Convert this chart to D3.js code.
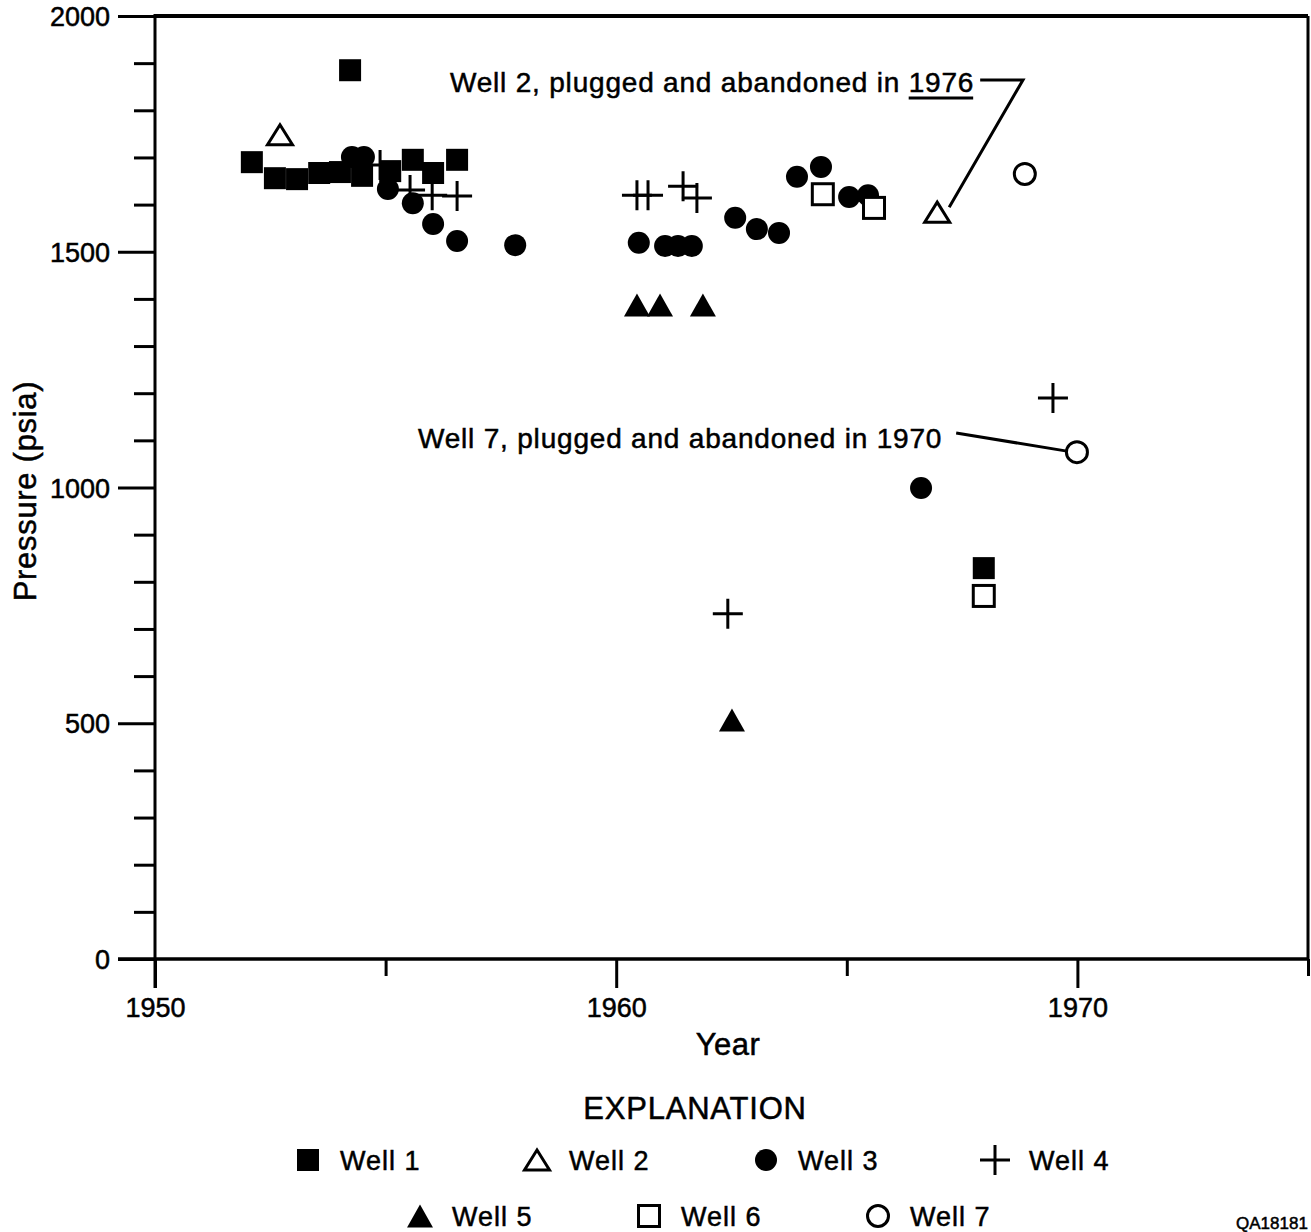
<!DOCTYPE html>
<html>
<head>
<meta charset="utf-8">
<script src="https://cdn.jsdelivr.net/npm/d3@7"></script>
<style>
  html, body { margin: 0; padding: 0; background: #fff; }
  svg { display: block; }
  text { font-family: "Liberation Sans", Arial, Helvetica, sans-serif; fill: #000; stroke: #000; stroke-width: 0.5px; }
</style>
</head>
<body>
<svg id="chart" width="1311" height="1232"></svg>
<script>
// Measured shut-in pressures by well (year, psia)
const well1Year = [1952.10, 1952.60, 1953.08, 1953.56, 1954.01, 1954.23, 1954.49, 1955.10, 1955.59, 1956.03, 1956.55, 1967.97];
const well1Psia = [1690, 1656, 1654, 1667, 1669, 1885, 1661, 1671, 1695, 1667, 1695, 829];

const well2Year = [1952.71, 1966.96];
const well2Psia = [1748, 1584];

const well3Year = [1954.27, 1954.53, 1955.05, 1955.59, 1956.03, 1956.55, 1957.81, 1960.49, 1961.06, 1961.34, 1961.64,
                   1962.58, 1963.05, 1963.53, 1963.92, 1964.44, 1965.05, 1965.46, 1966.61];
const well3Psia = [1701, 1701, 1633, 1603, 1559, 1523, 1514, 1519, 1512, 1512, 1512,
                   1572, 1548, 1540, 1659, 1680, 1616, 1620, 999];

const well4Year = [1954.88, 1955.53, 1956.01, 1956.55, 1960.45, 1960.69, 1961.45, 1961.75, 1962.42, 1969.47];
const well4Psia = [1684, 1631, 1620, 1618, 1620, 1620, 1639, 1614, 732, 1190];

const well5Year = [1960.45, 1960.95, 1961.88, 1962.51];
const well5Psia = [1387, 1387, 1387, 507];

const well6Year = [1964.48, 1965.59, 1967.97];
const well6Psia = [1622, 1593, 770];

const well7Year = [1968.86, 1969.99];
const well7Psia = [1665, 1075];

const wellNames = ["Well 1", "Well 2", "Well 3", "Well 4", "Well 5", "Well 6", "Well 7"];
const wellShapes = ["squareFilled", "triangleOpen", "circleFilled", "cross", "triangleFilled", "squareOpen", "circleOpen"];

const yearMajorTicks = [1950, 1960, 1970];
const yearMinorTicks = [1955, 1965, 1975];
const psiaMajorTicks = [0, 500, 1000, 1500, 2000];
const psiaMinorTicks = d3.range(0, 2001, 100).filter(v => v % 500 !== 0);

const wells = [
  [well1Year, well1Psia], [well2Year, well2Psia], [well3Year, well3Psia], [well4Year, well4Psia],
  [well5Year, well5Psia], [well6Year, well6Psia], [well7Year, well7Psia]
].map(([yr, ps], i) => ({ name: wellNames[i], shape: wellShapes[i], points: yr.map((v, j) => ({ year: v, psia: ps[j] })) }));

const svg = d3.select("#chart");
const x = d3.scaleLinear().domain([1950, 1975]).range([155, 1308]);
const y = d3.scaleLinear().domain([0, 2000]).range([959, 16]);

const STROKE = 3;

// Marker drawing, centred at (0,0)
function drawMarker(g, shape) {
  switch (shape) {
    case "squareFilled":
      g.append("rect").attr("x", -11).attr("y", -11).attr("width", 22).attr("height", 22).attr("fill", "#000");
      break;
    case "squareOpen":
      g.append("rect").attr("x", -10.5).attr("y", -10.5).attr("width", 21).attr("height", 21)
        .attr("fill", "#fff").attr("stroke", "#000").attr("stroke-width", STROKE);
      break;
    case "circleFilled":
      g.append("circle").attr("r", 11).attr("fill", "#000");
      break;
    case "circleOpen":
      g.append("circle").attr("r", 10.5).attr("fill", "#fff").attr("stroke", "#000").attr("stroke-width", STROKE);
      break;
    case "triangleFilled":
      g.append("path").attr("d", "M0,-11.5L13,11.5L-13,11.5Z").attr("fill", "#000");
      break;
    case "triangleOpen":
      g.append("path").attr("d", "M0,-10L12.5,10L-12.5,10Z").attr("fill", "#fff")
        .attr("stroke", "#000").attr("stroke-width", STROKE).attr("stroke-linejoin", "miter");
      break;
    case "cross":
      g.append("path").attr("d", "M-15,0H15M0,-15V15").attr("fill", "none")
        .attr("stroke", "#000").attr("stroke-width", STROKE);
      break;
  }
}

// Frame: top and right edges
svg.append("line").attr("x1", x(1950)).attr("x2", x(1975)).attr("y1", y(2000)).attr("y2", y(2000))
  .attr("stroke", "#000").attr("stroke-width", 4);
svg.append("line").attr("x1", x(1975)).attr("x2", x(1975)).attr("y1", y(2000)).attr("y2", y(0))
  .attr("stroke", "#000").attr("stroke-width", 3);

// Y axis (major ticks with labels, minor ticks without)
const yMajor = svg.append("g").attr("transform", `translate(${x(1950)},0)`)
  .call(d3.axisLeft(y).tickValues(psiaMajorTicks).tickSize(37).tickPadding(8).tickFormat(d3.format("d")));
const yMinor = svg.append("g").attr("transform", `translate(${x(1950)},0)`)
  .call(d3.axisLeft(y).tickValues(psiaMinorTicks).tickSize(21).tickFormat(""));

// X axis
const xMajor = svg.append("g").attr("transform", `translate(0,${y(0)})`)
  .call(d3.axisBottom(x).tickValues(yearMajorTicks).tickSize(29).tickPadding(10).tickFormat(d3.format("d")));
const xMinor = svg.append("g").attr("transform", `translate(0,${y(0)})`)
  .call(d3.axisBottom(x).tickValues(yearMinorTicks).tickSize(17).tickFormat(""));

[yMajor, yMinor, xMajor, xMinor].forEach(a => {
  a.selectAll(".domain").remove();
  a.selectAll(".tick line").attr("stroke", "#000").attr("stroke-width", 3);
  a.selectAll(".tick text").style("font-size", "27px").attr("fill", "#000");
});
yMajor.selectAll(".tick text").attr("dy", "0.36em");
// axis lines themselves
svg.append("line").attr("x1", x(1950)).attr("x2", x(1950)).attr("y1", y(2000) - 2).attr("y2", y(0) + 29)
  .attr("stroke", "#000").attr("stroke-width", 3);
svg.append("line").attr("x1", x(1950) - 37).attr("x2", x(1975)).attr("y1", y(0)).attr("y2", y(0))
  .attr("stroke", "#000").attr("stroke-width", 3.5);

// Axis titles
svg.append("text").attr("x", 728).attr("y", 1055).attr("text-anchor", "middle")
  .style("font-size", "31px").style("letter-spacing", "0.5px").text("Year");
svg.append("text").attr("transform", "translate(36,491) rotate(-90)").attr("text-anchor", "middle")
  .style("font-size", "31px").style("letter-spacing", "0.7px").text("Pressure (psia)");

// Data markers
wells.forEach(w => {
  svg.append("g").selectAll("g").data(w.points).join("g")
    .attr("transform", d => `translate(${x(d.year)},${y(d.psia)})`)
    .each(function () { drawMarker(d3.select(this), w.shape); });
});

// Annotations for abandoned wells
const note2 = svg.append("text").attr("x", 450).attr("y", 92).style("font-size", "28px")
  .style("letter-spacing", "0.8px").text("Well 2, plugged and abandoned in 1976");
const n2 = note2.node();
const full2 = n2.getComputedTextLength();
const txt2 = n2.textContent;
const yrStart = txt2.indexOf("1976");
const ulStart = 450 + n2.getSubStringLength(0, yrStart);
const ulEnd = 450 + full2;
svg.append("line").attr("x1", ulStart).attr("x2", ulEnd - 1).attr("y1", 98).attr("y2", 98)
  .attr("stroke", "#000").attr("stroke-width", 3);
const w2 = wells[1].points[1];
svg.append("path")
  .attr("d", `M${ulEnd + 6},80H${x(1968.82)}L${x(w2.year) + 12},${y(w2.psia) - 5}`)
  .attr("fill", "none").attr("stroke", "#000").attr("stroke-width", 3);

const note7 = svg.append("text").attr("x", 418).attr("y", 448).style("font-size", "28px")
  .style("letter-spacing", "0.8px").text("Well 7, plugged and abandoned in 1970");
const end7 = 418 + note7.node().getComputedTextLength();
const w7 = wells[6].points[1];
svg.append("line").attr("x1", end7 + 14).attr("y1", 433).attr("x2", x(w7.year) - 10).attr("y2", y(w7.psia) - 1)
  .attr("stroke", "#000").attr("stroke-width", 3);

// Legend
svg.append("text").attr("x", 695).attr("y", 1119).attr("text-anchor", "middle")
  .style("font-size", "31px").style("letter-spacing", "0.8px").text("EXPLANATION");
const legendRows = [[0, 1, 2, 3], [4, 5, 6]];
const legendRowX = [308, 420];
const legendRowY = [1160, 1216];
legendRows.forEach((row, r) => {
  row.forEach((wi, k) => {
    const g = svg.append("g").attr("transform", `translate(${legendRowX[r] + k * 229},${legendRowY[r]})`);
    drawMarker(g, wells[wi].shape);
    g.append("text").attr("x", wi === 3 ? 34 : 32).attr("y", 10).style("font-size", "27px")
      .style("letter-spacing", "1px").text(wells[wi].name);
  });
});

// Figure number at lower right
svg.append("text").attr("x", 1236).attr("y", 1229).style("font-size", "17px").text("QA18181");
</script>
</body>
</html>
